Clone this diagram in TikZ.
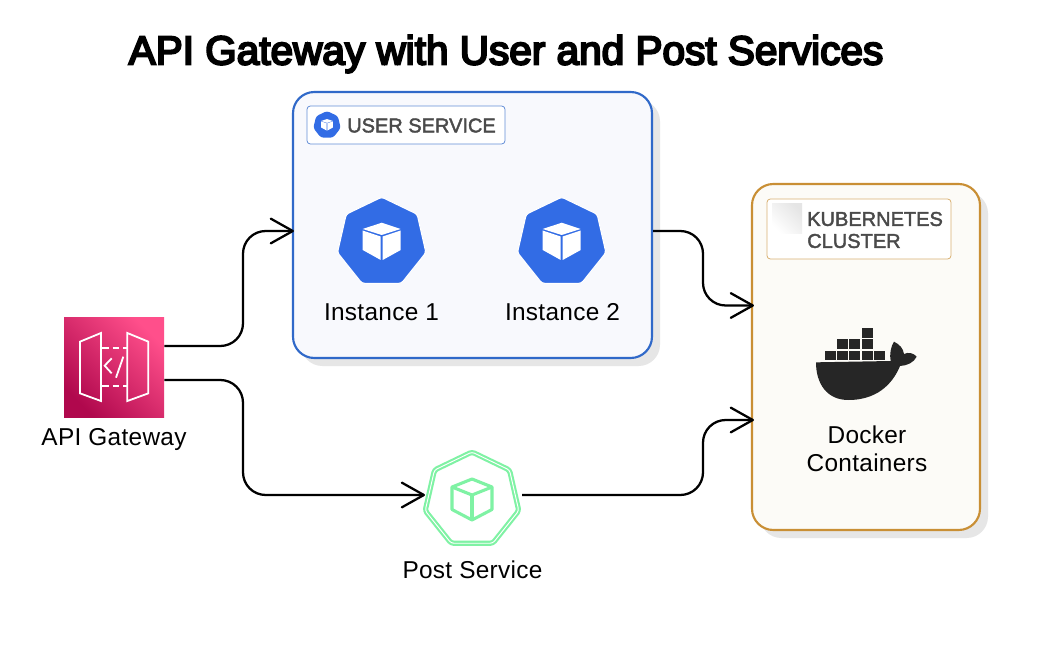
\documentclass[tikz,border=0pt]{standalone}
\usepackage{fontspec}
\setmainfont{Liberation Sans}[LetterSpace=1.2]
\newfontfamily\titlefont{Liberation Sans}[FakeBold=5]
\newfontfamily\tagfont{Liberation Sans}[FakeBold=2]
\usetikzlibrary{shapes.geometric,shadows,calc,arrows.meta}
\definecolor{kblue}{HTML}{326CE5}
\definecolor{ublue}{HTML}{3069C9}
\definecolor{ufill}{HTML}{F8F9FD}
\definecolor{ktan}{HTML}{C98F35}
\definecolor{kfill}{HTML}{FCFBF7}
\definecolor{shade}{HTML}{E6E6E6}
\definecolor{pgreen}{HTML}{7FF2A4}
\definecolor{dark}{HTML}{4A4A4A}
\definecolor{whale}{HTML}{262626}
\definecolor{gwA}{HTML}{B0084D}
\definecolor{gwB}{HTML}{FF4F8B}
\tikzset{
  panel/.style={rectangle,rounded corners=16pt,line width=1.6pt,
    general shadow={shadow xshift=6pt,shadow yshift=-6pt,fill=shade,draw=none}},
  tag/.style={rectangle,rounded corners=2.5pt,fill=white,line width=.6pt,inner sep=0pt},
  txt/.style={inner sep=0pt,font=\fontsize{18.3}{21}\selectfont,text=black,align=center},
  tagtxt/.style={inner sep=0pt,font=\tagfont\fontsize{15}{16.5}\selectfont,text=dark,align=left},
  hept/.style={regular polygon,regular polygon sides=7,inner sep=0pt,rounded corners=2pt},
  conn/.style={draw=black,line width=1.7pt,rounded corners=17pt},
  arr/.style={-{Straight Barb[length=16.5pt,width=18.5pt,line width=1.7pt,round]}},
}
\newcommand{\cubeat}[2]{%
  \begin{scope}[shift={(#1)},x=#2*0.75pt,y=-#2*0.75pt]
    \fill[white] (0,-19.3) -- (19,-13) -- (0,-7) -- (-19,-13) -- cycle;
    \fill[white] (-19,-11.5) -- (-1,-5.5) -- (-1,18) -- (-19,8) -- cycle;
    \fill[white] (19,-11.5) -- (1,-5.5) -- (1,18) -- (19,8) -- cycle;
  \end{scope}}
\begin{document}
\begin{tikzpicture}[x=0.75pt,y=-0.75pt]
\useasboundingbox (0,0) rectangle (1050,663);
\fill[white] (0,0) rectangle (1050,663);

\node[inner sep=0pt,font=\titlefont\fontsize{30.4}{32}\selectfont] (title) at (506,54) {API Gateway with User and Post Services};

% user service
\node[panel,draw=ublue,fill=ufill,minimum width=269.25pt,minimum height=199.5pt] (user) at (472.5,225) {};
\node[tag,draw=ublue!75,minimum width=148.5pt,minimum height=28.5pt] (usertag) at (406,125) {};
\node[hept,fill=kblue,minimum size=21pt] (usericon) at (327,125) {};
\cubeat{327,125}{0.31}
\node[tagtxt] (usertxt) at (421.5,125.5) {USER SERVICE};
\node[hept,fill=kblue,draw=white,line width=.8pt,minimum size=68pt] (inst1) at (381.7,242.5) {};
\cubeat{381.7,242}{1}
\node[hept,fill=kblue,draw=white,line width=.8pt,minimum size=68pt] (inst2) at (561.7,242.5) {};
\cubeat{561.7,242}{1}
\node[txt] (inst1txt) at (381.5,312) {Instance 1};
\node[txt] (inst2txt) at (562.5,312) {Instance 2};

% kubernetes
\node[panel,draw=ktan,fill=kfill,minimum width=171pt,minimum height=259.5pt] (k8s) at (866,357) {};
\node[tag,draw=ktan!70,minimum width=138pt,minimum height=45pt] (k8stag) at (859,229) {};
\shade[left color=black!10,right color=white,shading angle=315] (772,204) rectangle (802,234);
\node[tagtxt,anchor=west] (k8stxt) at (807,230) {KUBERNETES\\CLUSTER};

% whale
\begin{scope}[shift={(740,175)},x=0.25pt,y=-0.25pt]
  \fill[whale] (365,458) rectangle (398,489);
  \fill[whale] (292,493) rectangle (323,522);
  \fill[whale] (328,493) rectangle (360,522);
  \fill[whale] (365,493) rectangle (398,522);
  \fill[whale] (255,527) rectangle (287,556);
  \fill[whale] (292,527) rectangle (323,556);
  \fill[whale] (328,527) rectangle (360,556);
  \fill[whale] (365,527) rectangle (398,556);
  \fill[whale] (402,527) rectangle (434,556);
  \fill[whale] (228,562) -- (452,558)
    .. controls (448,540) and (452,515) .. (462,500)
    .. controls (478,508) and (490,520) .. (492,537)
    .. controls (505,530) and (522,535) .. (530,545)
    .. controls (522,562) and (502,572) .. (480,573)
    .. controls (465,610) and (425,675) .. (325,675)
    .. controls (260,675) and (228,625) .. (228,562) -- cycle;
\end{scope}
\node[txt] (dockertxt) at (867,448.5) {Docker\\Containers};

% api gateway
\node[rectangle,minimum size=75pt,inner sep=0pt,bottom color=gwA,top color=gwB,shading angle=-45] (apigw) at (114,367) {};
\begin{scope}[shift={(30,305)},x=0.25pt,y=-0.25pt,draw=white,line width=1.35pt]
  \draw (150,110) -- (213,84) -- (213,288) -- (150,265) -- cycle;
  \draw (292,84) -- (355,110) -- (355,265) -- (292,288) -- cycle;
  \draw[dash pattern=on 5pt off 3pt] (216,130) -- (292,130);
  \draw[dash pattern=on 5pt off 3pt] (216,242) -- (292,242);
  \draw (245,160) -- (224,182) -- (245,205);
  \draw (280,155) -- (258,218);
\end{scope}
\node[txt] (apitxt) at (114,440) {API Gateway};

% post service
\node[hept,draw=pgreen,line width=1.6pt,double=white,double distance=.7pt,fill=white,minimum size=72pt] (post) at (472,500) {};
\begin{scope}[shift={(post.center)},draw=pgreen,line width=2.3pt,line join=round]
  \draw (0,-21) -- (20,-13) -- (20,9.5) -- (0,20) -- (-20,9.5) -- (-20,-13) -- cycle;
  \draw (-20,-13) -- (0,-5) -- (20,-13);
  \draw (0,-5) -- (0,20);
\end{scope}
\node[txt] (posttxt) at (472.5,570) {Post Service};

% connectors
\coordinate (laneA) at (243,0);
\coordinate (laneB) at (703,0);
\coordinate (gwUp) at ($(apigw.east)+(0,-21)$);
\coordinate (gwDown) at ($(apigw.east)+(0,13)$);
\coordinate (userIn) at ($(user.west)+(2,6)$);
\coordinate (userOut) at ($(user.east)+(0,6)$);
\coordinate (k8sUp) at ($(k8s.west)+(3,-51.5)$);
\coordinate (k8sDown) at ($(k8s.west)+(3,63)$);
\coordinate (postIn) at ($(post.center)+(-47,-5)$);
\coordinate (postOut) at ($(post.center)+(50,-5)$);
\draw[conn,arr] (gwUp) -- (gwUp -| laneA) -- (laneA |- userIn) -- (userIn);
\draw[conn,arr] (gwDown) -- (gwDown -| laneA) -- (laneA |- postIn) -- (postIn);
\draw[conn,arr] (userOut) -- (userOut -| laneB) -- (laneB |- k8sUp) -- (k8sUp);
\draw[conn,arr] (postOut) -- (postOut -| laneB) -- (laneB |- k8sDown) -- (k8sDown);
\end{tikzpicture}
\end{document}
